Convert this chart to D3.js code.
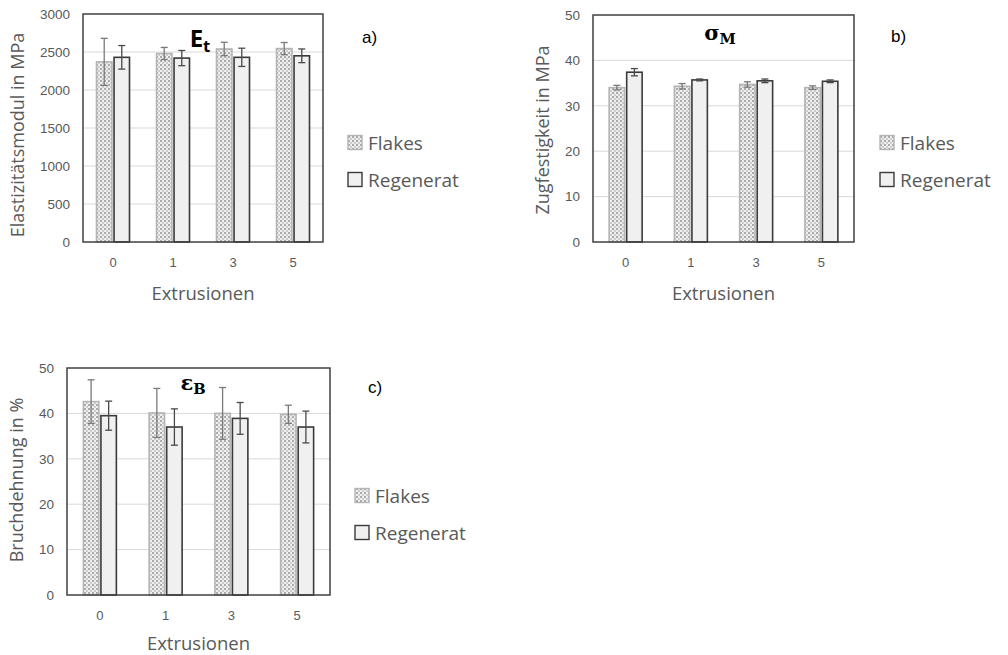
<!DOCTYPE html>
<html>
<head>
<meta charset="utf-8">
<script src="https://cdn.jsdelivr.net/npm/d3@7"></script>
<style>
  html, body { margin: 0; padding: 0; background: #fff; }
  svg { display: block; }
</style>
</head>
<body>
<svg id="chart" width="1008" height="655"></svg>
<script>
// ---- data ----
const categories = ["0", "1", "3", "5"];
const seriesNames = ["Flakes", "Regenerat"];

const eFlakes = [2370, 2480, 2540, 2545];
const eFlakesErr = [310, 80, 88, 80];
const eRegenerat = [2430, 2420, 2430, 2450];
const eRegeneratErr = [155, 100, 120, 90];

const sFlakes = [34.0, 34.3, 34.7, 34.0];
const sFlakesErr = [0.5, 0.6, 0.6, 0.4];
const sRegenerat = [37.4, 35.7, 35.5, 35.4];
const sRegeneratErr = [0.8, 0.2, 0.4, 0.3];

const bFlakes = [42.6, 40.1, 40.0, 39.8];
const bFlakesErr = [4.8, 5.4, 5.7, 2.0];
const bRegenerat = [39.5, 37.0, 38.9, 37.0];
const bRegeneratErr = [3.2, 4.0, 3.5, 3.5];

const eTicks = [0, 500, 1000, 1500, 2000, 2500, 3000];
const pctTicks = [0, 10, 20, 30, 40, 50];

// ---- drawing ----
const svg = d3.select("#chart");
const defs = svg.append("defs");
const pat = defs.append("pattern").attr("id", "dots").attr("patternUnits", "userSpaceOnUse")
  .attr("width", 4).attr("height", 4);
pat.append("rect").attr("width", 4).attr("height", 4).attr("fill", "#efefef");
pat.append("circle").attr("cx", 1).attr("cy", 1).attr("r", 0.9).attr("fill", "#8a8a8a");
pat.append("circle").attr("cx", 3).attr("cy", 3).attr("r", 0.8).attr("fill", "#a0a0a0");

const tickFont = "'Liberation Sans', Arial, sans-serif";
const textFont = "'Open Sans', 'Noto Sans', sans-serif";
const grey = "#595959";

function panel(cfg) {
  const g = svg.append("g");
  const x = d3.scaleBand().domain(categories).range([cfg.left, cfg.right]).paddingInner(0).paddingOuter(0);
  const x1 = d3.scaleBand().domain(seriesNames).range([-16.5, 16.5]).paddingInner(0.12);
  const y = d3.scaleLinear().domain([0, cfg.max]).range([cfg.bottom, cfg.top]);

  // gridlines
  g.append("g").selectAll("line").data(cfg.ticks.slice(1, -1)).join("line")
    .attr("x1", cfg.left).attr("x2", cfg.right)
    .attr("y1", d => y(d)).attr("y2", d => y(d))
    .attr("stroke", "#d9d9d9").attr("stroke-width", 1);

  // y axis
  const ya = g.append("g").attr("transform", `translate(${cfg.left},0)`)
    .call(d3.axisLeft(y).tickValues(cfg.ticks).tickFormat(d3.format("d")).tickSize(0).tickPadding(13));
  ya.select(".domain").remove();
  ya.selectAll("text").attr("font-family", tickFont).attr("font-size", 13.5).attr("fill", grey);

  // x axis
  const xa = g.append("g").attr("transform", `translate(0,${cfg.bottom})`)
    .call(d3.axisBottom(x).tickSize(0).tickPadding(16));
  xa.select(".domain").remove();
  xa.selectAll("text").attr("font-family", tickFont).attr("font-size", 13).attr("fill", grey);

  const series = [
    {name: "Flakes", vals: cfg.flakes, errs: cfg.flakesErr, fill: "url(#dots)", stroke: "#b5b5b5", err: "#7a7a7a"},
    {name: "Regenerat", vals: cfg.reg, errs: cfg.regErr, fill: "#f0f0f0", stroke: "#3a3a3a", err: "#4a4a4a"}
  ];
  series.forEach(s => {
    const data = categories.map((c, i) => ({c, v: s.vals[i], e: s.errs[i]}));
    const bx = d => x(d.c) + x.bandwidth() / 2 + x1(s.name);
    g.append("g").selectAll("rect").data(data).join("rect")
      .attr("x", bx).attr("width", x1.bandwidth())
      .attr("y", d => y(d.v)).attr("height", d => y(0) - y(d.v))
      .attr("fill", s.fill).attr("stroke", s.stroke).attr("stroke-width", 1.6);
    const eg = g.append("g").attr("stroke", s.err).attr("stroke-width", 1.3);
    const cx = d => bx(d) + x1.bandwidth() / 2;
    eg.selectAll(".v").data(data).join("line").attr("class", "v")
      .attr("x1", cx).attr("x2", cx).attr("y1", d => y(d.v - d.e)).attr("y2", d => y(d.v + d.e));
    eg.selectAll(".t").data(data).join("line").attr("class", "t")
      .attr("x1", d => cx(d) - 3.5).attr("x2", d => cx(d) + 3.5).attr("y1", d => y(d.v + d.e)).attr("y2", d => y(d.v + d.e));
    eg.selectAll(".b").data(data).join("line").attr("class", "b")
      .attr("x1", d => cx(d) - 3.5).attr("x2", d => cx(d) + 3.5).attr("y1", d => y(d.v - d.e)).attr("y2", d => y(d.v - d.e));
  });

  // frame
  g.append("rect").attr("x", cfg.left).attr("y", cfg.top)
    .attr("width", cfg.right - cfg.left).attr("height", cfg.bottom - cfg.top)
    .attr("fill", "none").attr("stroke", "#404040").attr("stroke-width", 1.5);

  // axis titles
  g.append("text").attr("x", (cfg.left + cfg.right) / 2).attr("y", cfg.xTitleY)
    .attr("text-anchor", "middle").attr("font-family", textFont).attr("font-size", 18.5).attr("fill", grey)
    .text("Extrusionen");
  g.append("text").attr("transform", `translate(${cfg.yTitleX},${cfg.yTitleCY}) rotate(-90)`)
    .attr("text-anchor", "middle").attr("font-family", textFont).attr("font-size", 18).attr("fill", grey)
    .attr("dy", "0.35em").text(cfg.yTitle);

  // inner title
  const t = g.append("text").attr("x", cfg.titleX).attr("y", cfg.titleY).attr("text-anchor", "middle")
    .attr("font-family", cfg.titleFont).attr("font-weight", "bold").attr("font-size", cfg.titleSize).attr("fill", "#000");
  t.append("tspan").text(cfg.titleMain);
  t.append("tspan").attr("dy", cfg.subDy).attr("font-size", cfg.titleSize * 0.7).text(cfg.titleSub);

  // panel label
  g.append("text").attr("x", cfg.labelX).attr("y", cfg.labelY)
    .attr("font-family", "'Liberation Sans', Arial, sans-serif").attr("font-size", 17).attr("fill", "#000")
    .text(cfg.label);

  // legend
  const lg = g.append("g").attr("font-family", textFont).attr("font-size", 19).attr("fill", grey);
  series.forEach((s, i) => {
    const yy = cfg.legY + i * 37;
    lg.append("rect").attr("x", cfg.legX).attr("y", yy - 7.5).attr("width", 14).attr("height", 14)
      .attr("fill", s.fill).attr("stroke", i === 0 ? "#b5b5b5" : "#3a3a3a").attr("stroke-width", 1.4);
    lg.append("text").attr("x", cfg.legX + 20).attr("y", yy).attr("dy", "0.35em").text(s.name);
  });
}

panel({
  left: 83, right: 323, top: 14, bottom: 242, max: 3000, ticks: eTicks,
  flakes: eFlakes, flakesErr: eFlakesErr, reg: eRegenerat, regErr: eRegeneratErr,
  xTitleY: 300, yTitleX: 18, yTitleCY: 135, yTitle: "Elastizitätsmodul in MPa",
  titleX: 200, titleY: 47, titleFont: "'Open Sans', sans-serif", titleSize: 24, titleMain: "E", titleSub: "t", subDy: 5,
  label: "a)", labelX: 362, labelY: 43, legX: 348, legY: 143
});
panel({
  left: 593, right: 854, top: 15, bottom: 242, max: 50, ticks: pctTicks,
  flakes: sFlakes, flakesErr: sFlakesErr, reg: sRegenerat, regErr: sRegeneratErr,
  xTitleY: 300, yTitleX: 543, yTitleCY: 130, yTitle: "Zugfestigkeit in MPa",
  titleX: 720, titleY: 40, titleFont: "'DejaVu Serif', serif", titleSize: 21, titleMain: "σ", titleSub: "M", subDy: 4,
  label: "b)", labelX: 891, labelY: 42, legX: 880, legY: 143
});
panel({
  left: 67, right: 330, top: 368, bottom: 595, max: 50, ticks: pctTicks,
  flakes: bFlakes, flakesErr: bFlakesErr, reg: bRegenerat, regErr: bRegeneratErr,
  xTitleY: 650, yTitleX: 17, yTitleCY: 480, yTitle: "Bruchdehnung in %",
  titleX: 193, titleY: 390, titleFont: "'DejaVu Serif', serif", titleSize: 21, titleMain: "ε", titleSub: "B", subDy: 4,
  label: "c)", labelX: 368, labelY: 393, legX: 355, legY: 496
});
</script>
</body>
</html>
